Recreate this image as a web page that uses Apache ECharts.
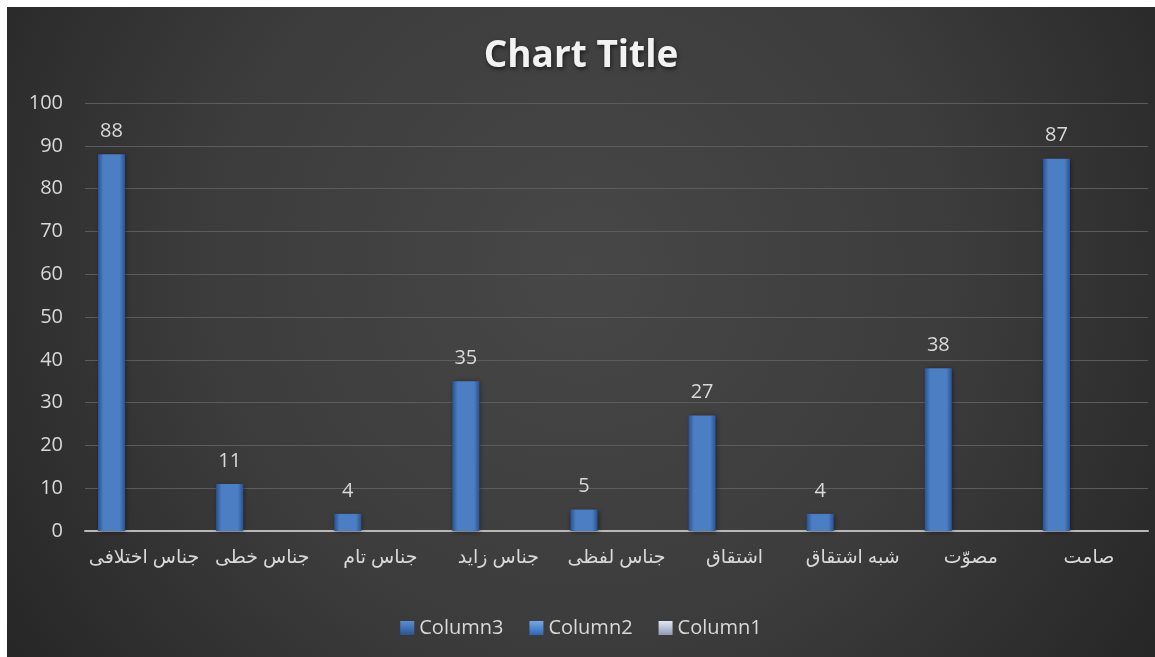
<!DOCTYPE html>
<html>
<head>
<meta charset="utf-8">
<script src="https://cdn.jsdelivr.net/npm/echarts@6/dist/echarts.min.js"></script>
<style>
  html, body { margin: 0; padding: 0; background: #ffffff; overflow: hidden; }
  #chart { position: absolute; left: 7px; top: 7px; width: 1148px; height: 650px; }
</style>
</head>
<body>
<div id="chart"></div>
<script>
// Categories and values
const categories = ['جناس اختلافی', 'جناس خطی', 'جناس تام', 'جناس زاید', 'جناس لفظی', 'اشتقاق', 'شبه اشتقاق', 'مصوّت', 'صامت'];
const column3 = [88, 11, 4, 35, 5, 27, 4, 38, 87];
const column2 = [null, null, null, null, null, null, null, null, null];
const column1 = [null, null, null, null, null, null, null, null, null];
const seriesNames = ['Column3', 'Column2', 'Column1'];

const FONT = '"Open Sans", "DejaVu Sans", sans-serif';
const TEXT = '#d9d9d9';

function barGradient(edge, mid) {
  return new echarts.graphic.LinearGradient(0, 0, 1, 0, [
    { offset: 0, color: edge },
    { offset: 0.2, color: mid },
    { offset: 0.8, color: mid },
    { offset: 1, color: edge }
  ]);
}

function iconGradient(top, bottom) {
  return new echarts.graphic.LinearGradient(0, 0, 0, 1, [
    { offset: 0, color: top },
    { offset: 1, color: bottom }
  ]);
}

const chart = echarts.init(document.getElementById('chart'));
chart.setOption({
  backgroundColor: new echarts.graphic.RadialGradient(0.5, 0.4, 1.05, [
    { offset: 0, color: '#474747' },
    { offset: 0.55, color: '#3c3c3c' },
    { offset: 1, color: '#272727' }
  ]),
  title: {
    text: 'Chart Title',
    left: 'center',
    top: 26,
    textStyle: {
      color: '#f2f2f2',
      fontFamily: FONT,
      fontWeight: 'bold',
      fontSize: 37,
      textShadowColor: 'rgba(0,0,0,0.6)',
      textShadowBlur: 4,
      textShadowOffsetX: 1,
      textShadowOffsetY: 2
    }
  },
  legend: {
    data: [
      { name: 'Column3', itemStyle: { color: iconGradient('#5a8ed2', '#2a5594') } },
      { name: 'Column2', itemStyle: { color: iconGradient('#74a8e6', '#2f68b4') } },
      { name: 'Column1', itemStyle: { color: iconGradient('#e3e7f0', '#8f9ab5') } }
    ],
    icon: 'rect',
    left: 'center',
    top: 606,
    itemWidth: 14,
    itemHeight: 14,
    itemGap: 26,
    textStyle: { color: TEXT, fontFamily: FONT, fontSize: 20 }
  },
  grid: { left: 78, right: 7, top: 96, bottom: 126, containLabel: false },
  xAxis: {
    type: 'category',
    data: categories,
    axisLine: { show: true, lineStyle: { color: '#b8b8b8', width: 2 } },
    axisTick: { show: false },
    axisLabel: { interval: 0, color: TEXT, fontFamily: FONT, fontSize: 19, margin: 17 }
  },
  yAxis: {
    type: 'value',
    min: 0,
    max: 100,
    interval: 10,
    axisLine: { show: false },
    axisTick: { show: false },
    axisLabel: { color: TEXT, fontFamily: FONT, fontSize: 20, margin: 22 },
    splitLine: { lineStyle: { color: '#5c5c5c', width: 1 } }
  },
  series: [
    {
      name: 'Column3',
      type: 'bar',
      data: column3,
      barGap: '20%',
      barCategoryGap: '22%',
      itemStyle: {
        color: barGradient('#2a5291', '#4c7ec4'),
        shadowColor: 'rgba(0,0,0,0.5)',
        shadowBlur: 5,
        shadowOffsetX: 1,
        shadowOffsetY: 1
      },
      label: {
        show: true,
        position: 'top',
        distance: 13,
        color: TEXT,
        fontFamily: FONT,
        fontSize: 20
      }
    },
    {
      name: 'Column2',
      type: 'bar',
      data: column2,
      itemStyle: { color: barGradient('#2f68b4', '#4a86d4') }
    },
    {
      name: 'Column1',
      type: 'bar',
      data: column1,
      itemStyle: { color: barGradient('#8f9ab5', '#c4ccde') }
    }
  ]
});
</script>
</body>
</html>
